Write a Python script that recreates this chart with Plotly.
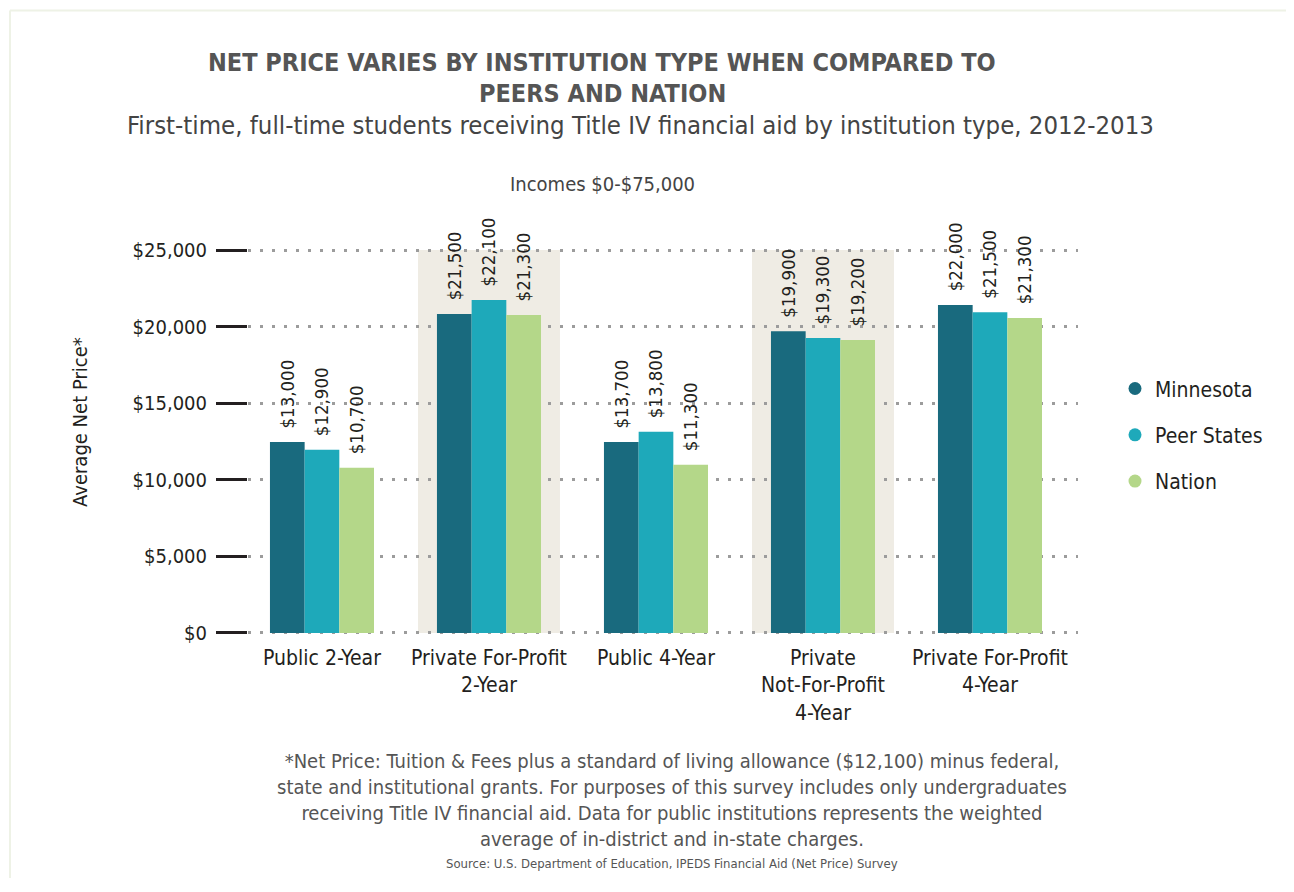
import plotly.graph_objects as go

# ---------------- data ----------------
categories = [
    "Public 2-Year",
    "Private For-Profit<br>2-Year",
    "Public 4-Year",
    "Private<br>Not-For-Profit<br>4-Year",
    "Private For-Profit<br>4-Year",
]
series_names = ["Minnesota", "Peer States", "Nation"]

# bar heights as drawn
minnesota = [12460, 20830, 12460, 19700, 21420]
peer_states = [11960, 21740, 13130, 19260, 20940]
nation = [10780, 20760, 10980, 19130, 20570]

# value labels as printed above the bars
minnesota_labels = ["$13,000", "$21,500", "$13,700", "$19,900", "$22,000"]
peer_states_labels = ["$12,900", "$22,100", "$13,800", "$19,300", "$21,500"]
nation_labels = ["$10,700", "$21,300", "$11,300", "$19,200", "$21,300"]

shaded_categories = [1, 3]
y_tick_values = [0, 5000, 10000, 15000, 20000, 25000]
y_tick_text = ["$0", "$5,000", "$10,000", "$15,000", "$20,000", "$25,000"]

# ---------------- style ----------------
FONT = "'Liberation Sans Narrow', 'DejaVu Sans Condensed', 'Roboto Condensed', 'Arial Narrow', sans-serif"
colors = ["#196A7E", "#1EA9BA", "#B4D789"]
TEXT = "#231F20"
GRAY = "#555555"

W, H = 1278, 870
L, R_EDGE, T, B_EDGE = 240, 1070, 238.9, 628.4
pw, ph = R_EDGE - L, B_EDGE - T


def px(fx):
    return (fx - L) / pw


def py(fy):
    return (B_EDGE - fy) / ph


fig = go.Figure()

values = [minnesota, peer_states, nation]
labels = [minnesota_labels, peer_states_labels, nation_labels]
pad = "\u00a0\u00a0"
for name, vals, labs, col in zip(series_names, values, labels, colors):
    fig.add_trace(go.Bar(
        name=name, x=categories, y=vals,
        marker=dict(color=col, line=dict(width=0)),
        text=[pad + t for t in labs],
        textposition="outside", textangle=-90,
        textfont=dict(family=FONT, size=18.5, color=TEXT),
        constraintext="none", cliponaxis=False,
        showlegend=False, legendgroup=name,
    ))
    fig.add_trace(go.Scatter(
        name=name, x=[None], y=[None], mode="markers",
        marker=dict(color=col, size=13, symbol="circle"),
        legendgroup=name, showlegend=True,
    ))

for i in shaded_categories:
    fig.add_shape(type="rect", xref="x", yref="y",
                  x0=i - 0.425, x1=i + 0.425, y0=0, y1=25000,
                  fillcolor="#EFECE4", line=dict(width=0), layer="below")

# light frame at top-left
fig.add_shape(type="line", xref="paper", yref="paper",
              x0=px(2), x1=px(1400), y0=py(2), y1=py(2),
              line=dict(color="#EEF2E6", width=2))
fig.add_shape(type="line", xref="paper", yref="paper",
              x0=px(2), x1=px(2), y0=py(2), y1=py(1000),
              line=dict(color="#EEF2E6", width=2))

ann = []
ann.append(dict(text="<b>NET PRICE VARIES BY INSTITUTION TYPE WHEN COMPARED TO</b>",
                x=px(594), y=py(54), font=dict(size=25, color=GRAY)))
ann.append(dict(text="<b>PEERS AND NATION</b>",
                x=px(594), y=py(85), font=dict(size=25, color=GRAY)))
ann.append(dict(text="First-time, full-time students receiving Title IV financial aid by institution type, 2012-2013",
                x=px(632), y=py(117), font=dict(size=25.5, color="#444444")))
ann.append(dict(text="Incomes $0-$75,000",
                x=px(594), y=py(176), font=dict(size=20, color="#444444")))
ann.append(dict(text="*Net Price: Tuition &amp; Fees plus a standard of living allowance ($12,100) minus federal,<br>"
                     "state and institutional grants. For purposes of this survey includes only undergraduates<br>"
                     "receiving Title IV financial aid. Data for public institutions represents the weighted<br>"
                     "average of in-district and in-state charges.",
                x=px(664), y=py(793), font=dict(size=20, color=GRAY)))
ann.append(dict(text="Source: U.S. Department of Education, IPEDS Financial Aid (Net Price) Survey",
                x=px(664), y=py(856), font=dict(size=13, color=GRAY)))
ann.append(dict(text="Average Net Price*", textangle=-90,
                x=px(72), y=py(414), font=dict(size=20, color=TEXT)))
for a in ann:
    a.update(xref="paper", yref="paper", showarrow=False,
             xanchor="center", yanchor="middle")
    a["font"]["family"] = FONT
fig.update_layout(annotations=ann)

fig.update_layout(
    width=W, height=H,
    margin=dict(l=L, r=W - R_EDGE, t=T, b=H - B_EDGE, pad=0),
    paper_bgcolor="white", plot_bgcolor="white",
    barmode="group", bargap=0.377, bargroupgap=0,
    font=dict(family=FONT, color=TEXT),
    showlegend=True,
    legend=dict(x=px(1107), y=py(427), xanchor="left", yanchor="middle",
                font=dict(size=21, color=TEXT, family=FONT),
                tracegroupgap=16, traceorder="grouped",
                bgcolor="rgba(0,0,0,0)", itemclick=False),
    xaxis=dict(range=[-0.443, 4.527], showgrid=False, showline=False,
               zeroline=False, ticks="", ticklabelstandoff=7,
               tickfont=dict(size=21, color=TEXT)),
    yaxis=dict(range=[-200, 25200], tickvals=y_tick_values, ticktext=y_tick_text,
               showline=False, zeroline=False,
               showgrid=True, gridcolor="#9C9C9C", gridwidth=2.5,
               griddash="2.5px,9.5px",
               ticks="outside", ticklen=31, tickwidth=3, tickcolor=TEXT,
               ticklabelstandoff=5,
               tickfont=dict(size=20, color=TEXT)),
)

fig.write_html("out.html")
